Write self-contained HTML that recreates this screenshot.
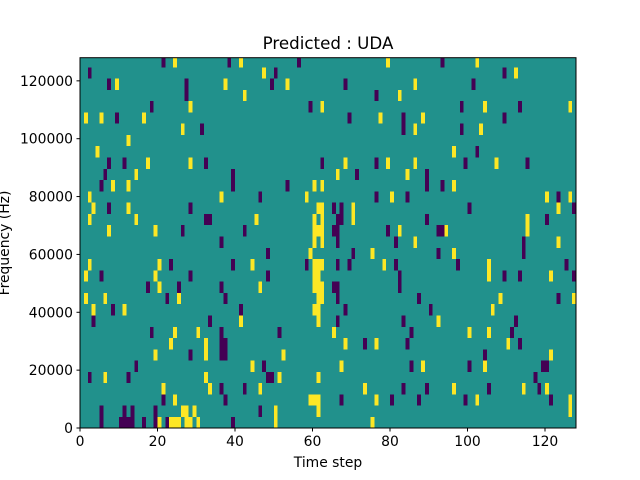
<!DOCTYPE html>
<html><head><meta charset="utf-8"><style>
html,body{margin:0;padding:0;background:#fff;}
svg{display:block;font-family:"DejaVu Sans","Liberation Sans",sans-serif;}
</style></head><body>
<svg id="chart" width="640" height="480" viewBox="0 0 640 480" xmlns="http://www.w3.org/2000/svg">
<rect width="640" height="480" fill="#fff"/>
<text x="328" y="49" font-size="16.7" text-anchor="middle" fill="#000">Predicted : UDA</text>
<defs><clipPath id="plotclip"><rect x="80" y="57.7" width="496" height="370.3"/></clipPath></defs>
<g id="cells" clip-path="url(#plotclip)" shape-rendering="crispEdges"></g>
<rect x="80" y="57.7" width="496" height="370.3" fill="none" stroke="#000" stroke-width="1"/>
<g id="xaxis"></g>
<g id="yaxis"></g>
<text x="328" y="467" font-size="13.9" text-anchor="middle">Time step</text>
<text transform="translate(9,243) rotate(-90)" font-size="13.9" text-anchor="middle">Frequency (Hz)</text>
</svg>
<script>
const nTime = 128;
const nBins = 33;
const binHz = 3900;
const freqMax = 128000;
const xTicks = [0, 20, 40, 60, 80, 100, 120];
const yTicks = [0, 20000, 40000, 60000, 80000, 100000, 120000];
const colorLow = "#440154", colorMid = "#21918c", colorHigh = "#fde725";
// [timeStep, freqBin] cells with low value (0)
const lowCells = [
[21,32],[38,32],[56,32],[93,32],
[2,31],[50,31],[109,31],
[7,30],[27,30],[49,30],[68,30],[101,30],
[27,29],[76,29],
[18,28],[59,28],[98,28],[113,28],
[9,27],[69,27],[83,27],[109,27],
[31,26],[83,26],[98,26],
[102,24],
[7,23],[11,23],[32,23],[62,23],[76,23],[99,23],[115,23],
[6,22],[39,22],[71,22],[89,22],
[5,21],[39,21],[53,21],[89,21],[93,21],
[46,20],[76,20],[84,20],[123,20],
[7,19],[28,19],[65,19],[67,19],[100,19],[127,19],
[32,18],[33,18],[66,18],[67,18],[89,18],[120,18],
[26,17],[42,17],[65,17],[66,17],[79,17],[92,17],[93,17],
[36,16],[66,16],[81,16],[114,16],
[48,15],[70,15],[92,15],[114,15],
[23,14],[39,14],[58,14],[66,14],[69,14],[81,14],[97,14],[125,14],
[5,13],[28,13],[48,13],[82,13],[109,13],[113,13],[127,13],
[17,12],[25,12],[36,12],[65,12],[66,12],[82,12],
[22,11],[37,11],[66,11],[87,11],[123,11],
[8,10],[41,10],[68,10],[90,10],
[3,9],[33,9],[66,9],[83,9],[112,9],
[18,8],[36,8],[51,8],[85,8],[111,8],
[36,7],[37,7],[73,7],[84,7],[113,7],
[28,6],[36,6],[37,6],[104,6],
[14,5],[47,5],[85,5],[100,5],[119,5],[120,5],
[2,4],[12,4],[48,4],[49,4],[117,4],
[36,3],[42,3],[83,3],[89,3],[105,3],[118,3],
[21,2],[37,2],[67,2],[80,2],[87,2],[99,2],[121,2],
[5,1],[11,1],[13,1],[19,1],[46,1],
[5,0],[10,0],[11,0],[12,0],[13,0],[16,0],[19,0],[22,0],[39,0]
];
// [timeStep, freqBin] cells with high value (2)
const highCells = [
[24,32],[41,32],[79,32],[102,32],
[47,31],[112,31],
[9,30],[37,30],[53,30],[86,30],
[42,29],[82,29],
[28,28],[62,28],[104,28],[126,28],
[1,27],[5,27],[16,27],[77,27],[88,27],
[26,26],[86,26],[103,26],
[12,25],
[4,24],[96,24],
[17,23],[28,23],[68,23],[79,23],[86,23],[107,23],
[14,22],[66,22],[84,22],
[8,21],[12,21],[60,21],[62,21],[96,21],
[2,20],[36,20],[58,20],[80,20],[120,20],[126,20],
[3,19],[12,19],[61,19],[62,19],[70,19],[123,19],
[2,18],[14,18],[45,18],[60,18],[62,18],[70,18],[115,18],
[7,17],[19,17],[60,17],[61,17],[62,17],[82,17],[94,17],[115,17],
[60,16],[62,16],[86,16],[123,16],
[59,15],[75,15],[96,15],
[2,14],[20,14],[44,14],[60,14],[61,14],[62,14],[78,14],[105,14],
[1,13],[19,13],[60,13],[61,13],[105,13],[121,13],
[20,12],[46,12],[60,12],[61,12],[62,12],
[1,11],[6,11],[25,11],[61,11],[62,11],[108,11],[127,11],
[3,10],[11,10],[60,10],[61,10],[106,10],
[41,9],[61,9],[92,9],
[24,8],[30,8],[65,8],[100,8],[105,8],
[23,7],[32,7],[68,7],[76,7],[110,7],
[19,6],[32,6],[52,6],[121,6],
[44,5],[67,5],[88,5],[104,5],
[6,4],[32,4],[51,4],[61,4],
[21,3],[33,3],[46,3],[73,3],[96,3],[114,3],[120,3],
[24,2],[59,2],[60,2],[61,2],[76,2],[102,2],[126,2],
[26,1],[27,1],[29,1],[50,1],[61,1],[126,1],
[20,0],[23,0],[24,0],[25,0],[27,0],[28,0],[30,0],[50,0],[75,0]
];

const PX0 = 80, PX1 = 576, PY0 = 428, PY1 = 57.7;
function xScale(t){ return PX0 + t * (PX1 - PX0) / nTime; }
function yScale(f){ return PY0 - f * (PY0 - PY1) / freqMax; }
const NS = "http://www.w3.org/2000/svg";

// build grid
const grid = [];
for (let b = 0; b < nBins; b++){ grid.push(new Array(nTime).fill(1)); }
lowCells.forEach(c => { grid[c[1]][c[0]] = 0; });
highCells.forEach(c => { grid[c[1]][c[0]] = 2; });

const cellsG = document.getElementById("cells");
for (let b = 0; b < nBins; b++){
  for (let t = 0; t < nTime; t++){
    const v = grid[b][t];
    const r = document.createElementNS(NS, "rect");
    const x0 = xScale(t), x1 = xScale(t + 1);
    const y0 = yScale((b + 1) * binHz), y1 = yScale(b * binHz);
    r.setAttribute("x", x0);
    r.setAttribute("y", y0);
    r.setAttribute("width", x1 - x0 + 0.3);
    r.setAttribute("height", y1 - y0 + 0.3);
    r.setAttribute("fill", v === 0 ? colorLow : (v === 2 ? colorHigh : colorMid));
    
    
    cellsG.appendChild(r);
  }
}

const xg = document.getElementById("xaxis");
xTicks.forEach(t => {
  const x = xScale(t);
  const l = document.createElementNS(NS, "line");
  l.setAttribute("x1", x); l.setAttribute("x2", x);
  l.setAttribute("y1", PY0); l.setAttribute("y2", PY0 + 3.5);
  l.setAttribute("stroke", "#000");
  
  
  xg.appendChild(l);
  const tx = document.createElementNS(NS, "text");
  tx.setAttribute("x", x); tx.setAttribute("y", PY0 + 18);
  tx.setAttribute("font-size", "13.9");
  tx.setAttribute("text-anchor", "middle");
  tx.textContent = String(t);
  
  
  xg.appendChild(tx);
});
const yg = document.getElementById("yaxis");
yTicks.forEach(f => {
  const y = yScale(f);
  const l = document.createElementNS(NS, "line");
  l.setAttribute("x1", PX0 - 3.5); l.setAttribute("x2", PX0);
  l.setAttribute("y1", y); l.setAttribute("y2", y);
  l.setAttribute("stroke", "#000");
  
  
  yg.appendChild(l);
  const tx = document.createElementNS(NS, "text");
  tx.setAttribute("x", PX0 - 7); tx.setAttribute("y", y + 5);
  tx.setAttribute("font-size", "13.9");
  tx.setAttribute("text-anchor", "end");
  tx.textContent = String(f);
  
  
  yg.appendChild(tx);
});
</script>
</body></html>
